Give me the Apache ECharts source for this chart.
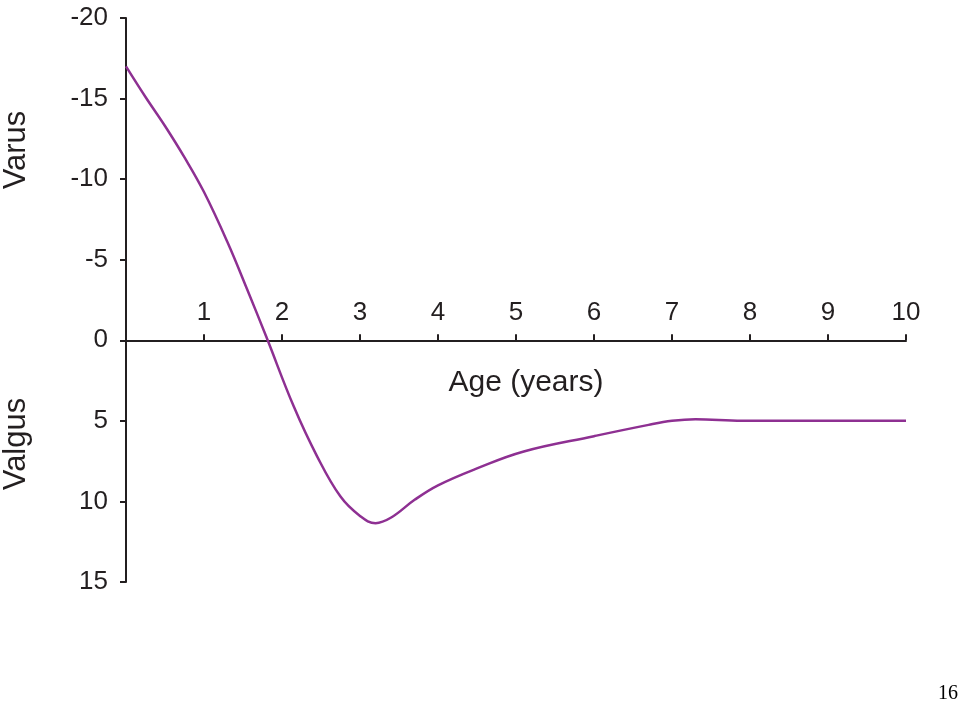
<!DOCTYPE html>
<html>
<head>
<meta charset="utf-8">
<script src="https://cdn.jsdelivr.net/npm/echarts@6/dist/echarts.min.js"></script>
<style>
html,body{margin:0;padding:0;background:#fff;}
#chart{width:960px;height:706px;}
</style>
</head>
<body>
<div id="chart"></div>
<script>
// Age (years)
var ages = [0, 0.25, 0.5, 0.75, 1, 1.3, 1.55, 1.8, 2.15, 2.45, 2.75, 3.0, 3.2, 3.4, 3.7, 4.0, 4.5, 5.1, 6.0, 6.7, 7.0, 7.3, 7.9, 8.5, 10];
// Angle (negative = varus, positive = valgus)
var angles = [-17, -15.1, -13.3, -11.35, -9.2, -6.1, -3.2, -0.2, 4.1, 7.2, 9.7, 10.9, 11.35, 11.0, 9.9, 9.0, 7.95, 6.9, 5.95, 5.25, 5.0, 4.9, 5.0, 5.0, 5.0];
var xTickLabels = ['1','2','3','4','5','6','7','8','9','10'];
var xName = 'Age (years)';
var upperLabel = 'Varus';
var lowerLabel = 'Valgus';
var pageNumber = '16';

var data = ages.map(function (a, i) { return [a, angles[i]]; });
var axisColor = '#231f20';
var font = 'Liberation Sans, Arial, sans-serif';

var gridTop = 18, gridBottom = 124, H = 706;
var yMin = -20, yMax = 15;
var plotH = H - gridTop - gridBottom;
// shift the x axis from the grid bottom up to the y = 0 level
var xAxisOffset = -plotH * (yMax - 0) / (yMax - yMin);

var chart = echarts.init(document.getElementById('chart'), null, {renderer: 'canvas'});
chart.setOption({
  animation: false,
  backgroundColor: '#fff',
  grid: {left: 126, right: 54, top: gridTop, bottom: gridBottom, containLabel: false},
  xAxis: {
    type: 'value', min: 0, max: 10, interval: 1,
    offset: xAxisOffset,
    name: xName, nameLocation: 'middle', nameGap: 27,
    nameTextStyle: {fontSize: 30, color: axisColor, fontFamily: font, verticalAlign: 'top', padding: [0, 0, 0, 20]},
    axisLine: {show: true, onZero: false, lineStyle: {color: axisColor, width: 2}},
    axisTick: {show: true, inside: true, length: 6, lineStyle: {color: axisColor, width: 2}},
    axisLabel: {
      inside: true, margin: 14, fontSize: 26, color: axisColor, fontFamily: font,
      formatter: function (v) { return v === 0 ? '' : xTickLabels[v - 1]; }
    },
    splitLine: {show: false}
  },
  yAxis: {
    type: 'value', min: yMin, max: yMax, interval: 5, inverse: true,
    axisLine: {show: true, onZero: false, lineStyle: {color: axisColor, width: 2}},
    axisTick: {show: true, inside: false, length: 6, lineStyle: {color: axisColor, width: 2}},
    axisLabel: {margin: 18, fontSize: 26, color: axisColor, fontFamily: font},
    splitLine: {show: false}
  },
  series: [{
    type: 'line', data: data, smooth: 0.4, showSymbol: false,
    lineStyle: {color: '#8e3092', width: 2.5}
  }],
  graphic: [
    {type: 'text', x: 16, y: 150, rotation: Math.PI / 2,
     style: {text: upperLabel, fontSize: 31, fill: axisColor, fontFamily: font, align: 'center', verticalAlign: 'middle'}},
    {type: 'text', x: 16, y: 444, rotation: Math.PI / 2,
     style: {text: lowerLabel, fontSize: 31, fill: axisColor, fontFamily: font, align: 'center', verticalAlign: 'middle'}},
    {type: 'text', right: 2, bottom: 2,
     style: {text: pageNumber, fontSize: 20, fill: '#000', fontFamily: 'Liberation Serif, Times New Roman, serif'}}
  ]
});
</script>
</body>
</html>
